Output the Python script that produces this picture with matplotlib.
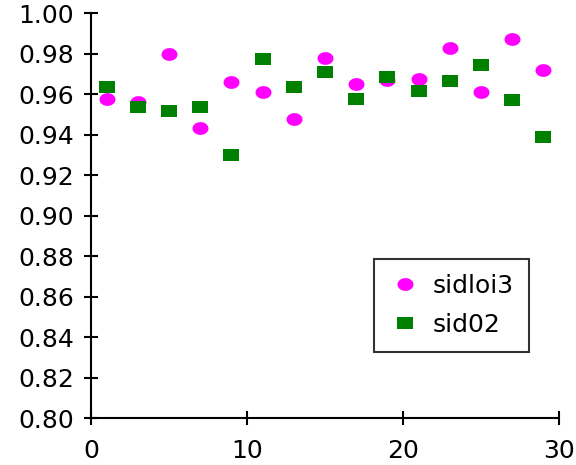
import numpy as np
import matplotlib
matplotlib.use("Agg")
import matplotlib.pyplot as plt
from matplotlib.path import Path

# data
x = [1, 3, 5, 7, 9, 11, 13, 15, 17, 19, 21, 23, 25, 27, 29]
sidloi3 = [0.9577, 0.956, 0.980, 0.943, 0.966, 0.961, 0.9475, 0.978,
           0.965, 0.967, 0.9673, 0.9827, 0.961, 0.987, 0.972]
sid02 = [0.9633, 0.9534, 0.9517, 0.9534, 0.9297, 0.9771, 0.9633, 0.9709,
         0.9574, 0.9682, 0.9613, 0.9663, 0.9742, 0.9569, 0.9386]
xticks = [0, 10, 20, 30]
yticks = np.arange(0.80, 1.001, 0.02)

# squashed markers (the original is a bit wider than tall)
t = np.linspace(0, 2 * np.pi, 60)
ellipse = Path(np.column_stack([np.cos(t), 0.8 * np.sin(t)]), closed=True)
rect = Path([(-1, -0.8), (1, -0.8), (1, 0.8), (-1, 0.8), (-1, -0.8)], closed=True)

plt.rcParams['font.family'] = ['DejaVu Sans']
fig = plt.figure(figsize=(5.76, 4.65), dpi=100)
ax = fig.add_axes([0.158, 0.101, 0.8125, 0.871])

ax.plot(x, sidloi3, linestyle='none', marker=ellipse, markersize=11.5,
        color='#ff00ff', markeredgewidth=0, label='sidloi3')
ax.plot(x, sid02, linestyle='none', marker=rect, markersize=11.5,
        color='#008000', markeredgewidth=0, label='sid02')

ax.set_xlim(0, 30)
ax.set_ylim(0.80, 1.00)
ax.set_xticks(xticks)
ax.set_yticks(yticks)
ax.set_yticklabels(['%.2f' % v for v in yticks])

for s in ['top', 'right']:
    ax.spines[s].set_visible(False)
for s in ['left', 'bottom']:
    ax.spines[s].set_linewidth(1.5)
ax.tick_params(direction='inout', length=10, width=1.5, labelsize=18)
ax.tick_params(axis='y', pad=7)
ax.tick_params(axis='x', pad=10)

leg = ax.legend(loc='upper left', bbox_to_anchor=(0.605, 0.393), fontsize=18,
                frameon=True, fancybox=False, borderpad=0.6, handletextpad=0.45,
                borderaxespad=0, labelspacing=0.6, handlelength=1.3)
leg.get_frame().set_edgecolor('black')
leg.get_frame().set_linewidth(1.5)

fig.savefig('out.png', dpi=100)
